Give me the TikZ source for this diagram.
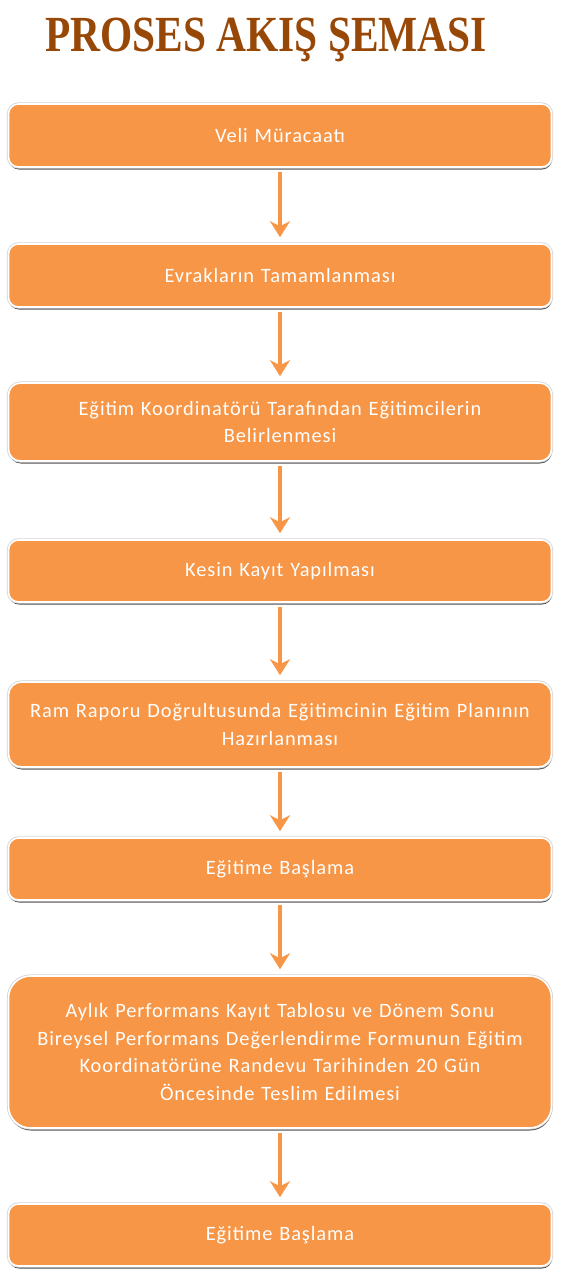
\documentclass[tikz,border=0pt]{standalone}
\usepackage{fontspec}
\setmainfont{Carlito}[LetterSpace=4.5]
\newfontfamily\titlefont{Liberation Serif}
\usetikzlibrary{arrows.meta,shadows}
\definecolor{boxorange}{HTML}{F79646}
\definecolor{titlebrown}{HTML}{984806}
\tikzset{
  stepbox/.style={rectangle, fill=boxorange, draw=white, line width=1.6pt,
    minimum width=543pt, text width=525pt, align=center, text=white,
    font=\fontsize{20.4}{27.7}\selectfont, inner sep=0pt,
    drop shadow={shadow xshift=0.5pt, shadow yshift=-2.5pt, fill=black!75, opacity=0.9},
    preaction={draw=gray!35, line width=3.2pt}},
  flowarrow/.style={draw=boxorange, line width=3.5pt,
    -{Stealth[length=16pt, width=20pt, inset=5pt]}}
}
\begin{document}
\begin{tikzpicture}[x=1pt,y=-1pt]
\useasboundingbox (0,0) rectangle (561,1280);
\node[text=titlebrown, inner sep=0pt] (title) at (266,40)
  {\scalebox{0.9}[1.1]{\titlefont\bfseries\fontsize{46}{50}\selectfont PROSES AKIŞ ŞEMASI}};
\node[stepbox, minimum height=63pt, rounded corners=10pt] (b1) at (280,135.5) {Veli Müracaatı};
\node[stepbox, minimum height=63pt, rounded corners=10pt] (b2) at (280,275.5) {Evrakların Tamamlanması};
\node[stepbox, minimum height=78pt, rounded corners=12pt] (b3) at (280,422) {Eğitim Koordinatörü Tarafından Eğitimcilerin\\Belirlenmesi};
\node[stepbox, minimum height=62pt, rounded corners=10pt] (b4) at (280,571) {Kesin Kayıt Yapılması};
\node[stepbox, minimum height=85pt, rounded corners=13pt] (b5) at (280,724.5) {Ram Raporu Doğrultusunda Eğitimcinin Eğitim Planının\\Hazırlanması};
\node[stepbox, minimum height=62pt, rounded corners=10pt] (b6) at (280,869) {Eğitime Başlama};
\node[stepbox, minimum height=152pt, rounded corners=22pt] (b7) at (280,1052) {Aylık Performans Kayıt Tablosu ve Dönem Sonu\\Bireysel Performans Değerlendirme Formunun Eğitim\\Koordinatörüne Randevu Tarihinden 20 Gün\\Öncesinde Teslim Edilmesi};
\node[stepbox, minimum height=62pt, rounded corners=10pt] (b8) at (280,1235) {Eğitime Başlama};
\foreach \a/\b in {b1/b2,b2/b3,b3/b4,b4/b5,b5/b6,b6/b7,b7/b8}{
  \draw[flowarrow] ([yshift=-4pt]\a.south) -- ([yshift=6pt]\b.north);
}
\end{tikzpicture}
\end{document}
